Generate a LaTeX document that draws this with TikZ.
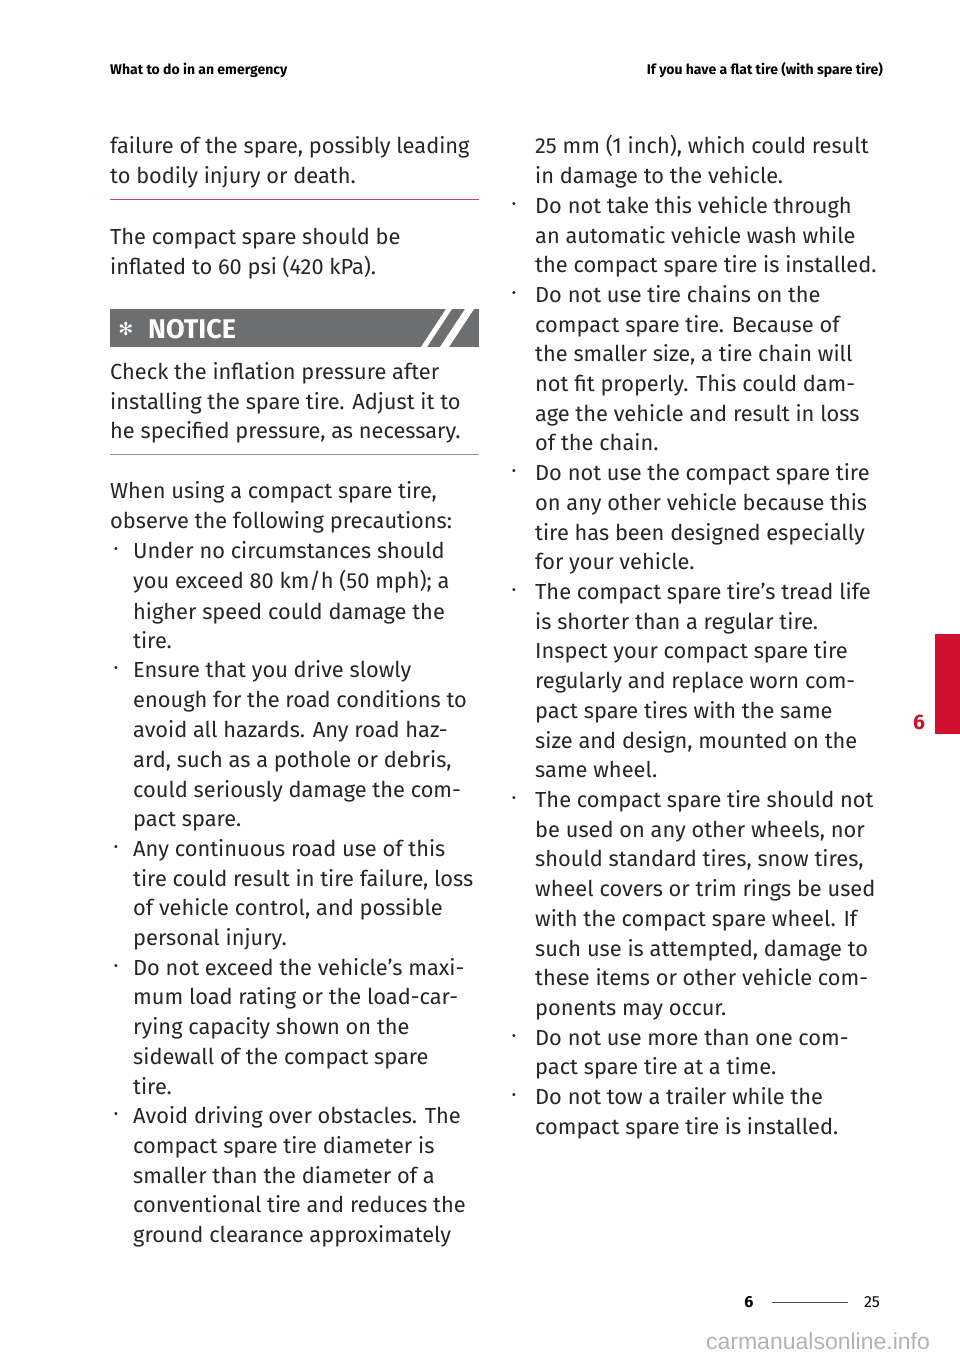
\documentclass[tikz,border=0pt]{standalone}
\usepackage{fontspec}
\setmainfont{Fira Sans}
\newfontfamily\wmfont{Liberation Sans}
\newfontfamily\djv{DejaVu Sans}
\definecolor{ban}{HTML}{6D6E70}
\definecolor{kred}{HTML}{D0102E}
\tikzset{tl/.style={anchor=base west,inner sep=0pt,font=\fontsize{21.8}{24}\selectfont,text=black!85},
hd/.style={anchor=base west,inner sep=0pt,font=\bfseries\fontsize{14}{16}\selectfont}}
\newcommand{\tline}[3]{\node[tl] at (#1,#2+8) {#3};}
\newcommand{\bul}[2]{\node[anchor=center,inner sep=0pt,font=\fontsize{13}{14}\selectfont,text=black!85] at (#1+2,#2+1) {\textbullet};}
\begin{document}
\begin{tikzpicture}[x=1pt,y=-1pt]
\useasboundingbox (0,0) rectangle (960,1360);
\node[hd] (h1) at (110,74) {What to do in an emergency};
\node[hd,anchor=base east] (h2) at (883,74) {If you have a flat tire (with spare tire)};
% left column
\tline{110}{145}{failure of the spare, possibly leading}
\tline{110}{175}{to bodily injury or death.}
\draw[kred!80,line width=0.8pt] (110,199) -- (479,199);
\tline{110}{236}{The compact spare should be}
\tline{110}{266}{inflated to 60 psi (420 kPa).}
\fill[ban] (110,309) rectangle (479,347);
\fill[white] (421,347) -- (446,309) -- (452,309) -- (427,347) -- cycle;
\fill[white] (440,347) -- (465,309) -- (474,309) -- (449,347) -- cycle;
\node[inner sep=0pt,text=white,font=\djv\fontsize{18}{18}\selectfont] (ast) at (126,329) {✻};
\node[anchor=base west,inner sep=0pt,text=white,font=\bfseries\fontsize{27}{28}\selectfont] (nt) at (148,338) {NOTICE};
\tline{110}{371}{Check the inflation pressure after}
\tline{110}{401}{installing the spare tire. Adjust it to}
\tline{110}{430}{he specified pressure, as necessary.}
\draw[black!45,line width=0.6pt] (110,454) -- (479,454);
\tline{110}{490}{When using a compact spare tire,}
\tline{110}{520}{observe the following precautions:}
\bul{114}{550}\tline{133}{550}{Under no circumstances should}
\tline{133}{580}{you exceed 80 km/h (50 mph); a}
\tline{133}{611}{higher speed could damage the}
\tline{133}{640}{tire.}
\bul{114}{669}\tline{133}{669}{Ensure that you drive slowly}
\tline{133}{699}{enough for the road conditions to}
\tline{133}{729}{avoid all hazards. Any road haz-}
\tline{133}{759}{ard, such as a pothole or debris,}
\tline{133}{789}{could seriously damage the com-}
\tline{133}{818}{pact spare.}
\bul{114}{848}\tline{133}{848}{Any continuous road use of this}
\tline{133}{878}{tire could result in tire failure, loss}
\tline{133}{907}{of vehicle control, and possible}
\tline{133}{937}{personal injury.}
\bul{114}{967}\tline{133}{967}{Do not exceed the vehicle's maxi-}
\tline{133}{996}{mum load rating or the load-car-}
\tline{133}{1026}{rying capacity shown on the}
\tline{133}{1056}{sidewall of the compact spare}
\tline{133}{1086}{tire.}
\bul{114}{1115}\tline{133}{1115}{Avoid driving over obstacles. The}
\tline{133}{1145}{compact spare tire diameter is}
\tline{133}{1175}{smaller than the diameter of a}
\tline{133}{1204}{conventional tire and reduces the}
\tline{133}{1234}{ground clearance approximately}
% right column
\tline{535}{145}{25 mm (1 inch), which could result}
\tline{535}{175}{in damage to the vehicle.}
\bul{512}{205}\tline{535}{205}{Do not take this vehicle through}
\tline{535}{235}{an automatic vehicle wash while}
\tline{535}{264}{the compact spare tire is installed.}
\bul{512}{294}\tline{535}{294}{Do not use tire chains on the}
\tline{535}{324}{compact spare tire. Because of}
\tline{535}{353}{the smaller size, a tire chain will}
\tline{535}{383}{not fit properly. This could dam-}
\tline{535}{413}{age the vehicle and result in loss}
\tline{535}{442}{of the chain.}
\bul{512}{472}\tline{535}{472}{Do not use the compact spare tire}
\tline{535}{502}{on any other vehicle because this}
\tline{535}{532}{tire has been designed especially}
\tline{535}{561}{for your vehicle.}
\bul{512}{591}\tline{535}{591}{The compact spare tire's tread life}
\tline{535}{621}{is shorter than a regular tire.}
\tline{535}{650}{Inspect your compact spare tire}
\tline{535}{680}{regularly and replace worn com-}
\tline{535}{710}{pact spare tires with the same}
\tline{535}{740}{size and design, mounted on the}
\tline{535}{769}{same wheel.}
\bul{512}{799}\tline{535}{799}{The compact spare tire should not}
\tline{535}{829}{be used on any other wheels, nor}
\tline{535}{858}{should standard tires, snow tires,}
\tline{535}{888}{wheel covers or trim rings be used}
\tline{535}{918}{with the compact spare wheel. If}
\tline{535}{948}{such use is attempted, damage to}
\tline{535}{977}{these items or other vehicle com-}
\tline{535}{1007}{ponents may occur.}
\bul{512}{1037}\tline{535}{1037}{Do not use more than one com-}
\tline{535}{1066}{pact spare tire at a time.}
\bul{512}{1096}\tline{535}{1096}{Do not tow a trailer while the}
\tline{535}{1126}{compact spare tire is installed.}
% tab
\fill[kred] (935,634) rectangle (960,734);
\node[text=kred,font=\bfseries\fontsize{21}{22}\selectfont,inner sep=0pt] (tab6) at (919,722) {6};
% footer
\node[font=\bfseries\fontsize{16}{18}\selectfont,inner sep=0pt] (f6) at (749,1302) {6};
\node[font=\fontsize{16}{18}\selectfont,inner sep=0pt] (f25) at (872,1302) {25};
\draw[black!70,line width=0.5pt] (772,1302) -- (848,1302);
\node[font=\wmfont\fontsize{23}{26}\selectfont,text=black!30,inner sep=0pt] (wm) at (818,1341) {carmanualsonline.info};
\end{tikzpicture}
\end{document}
